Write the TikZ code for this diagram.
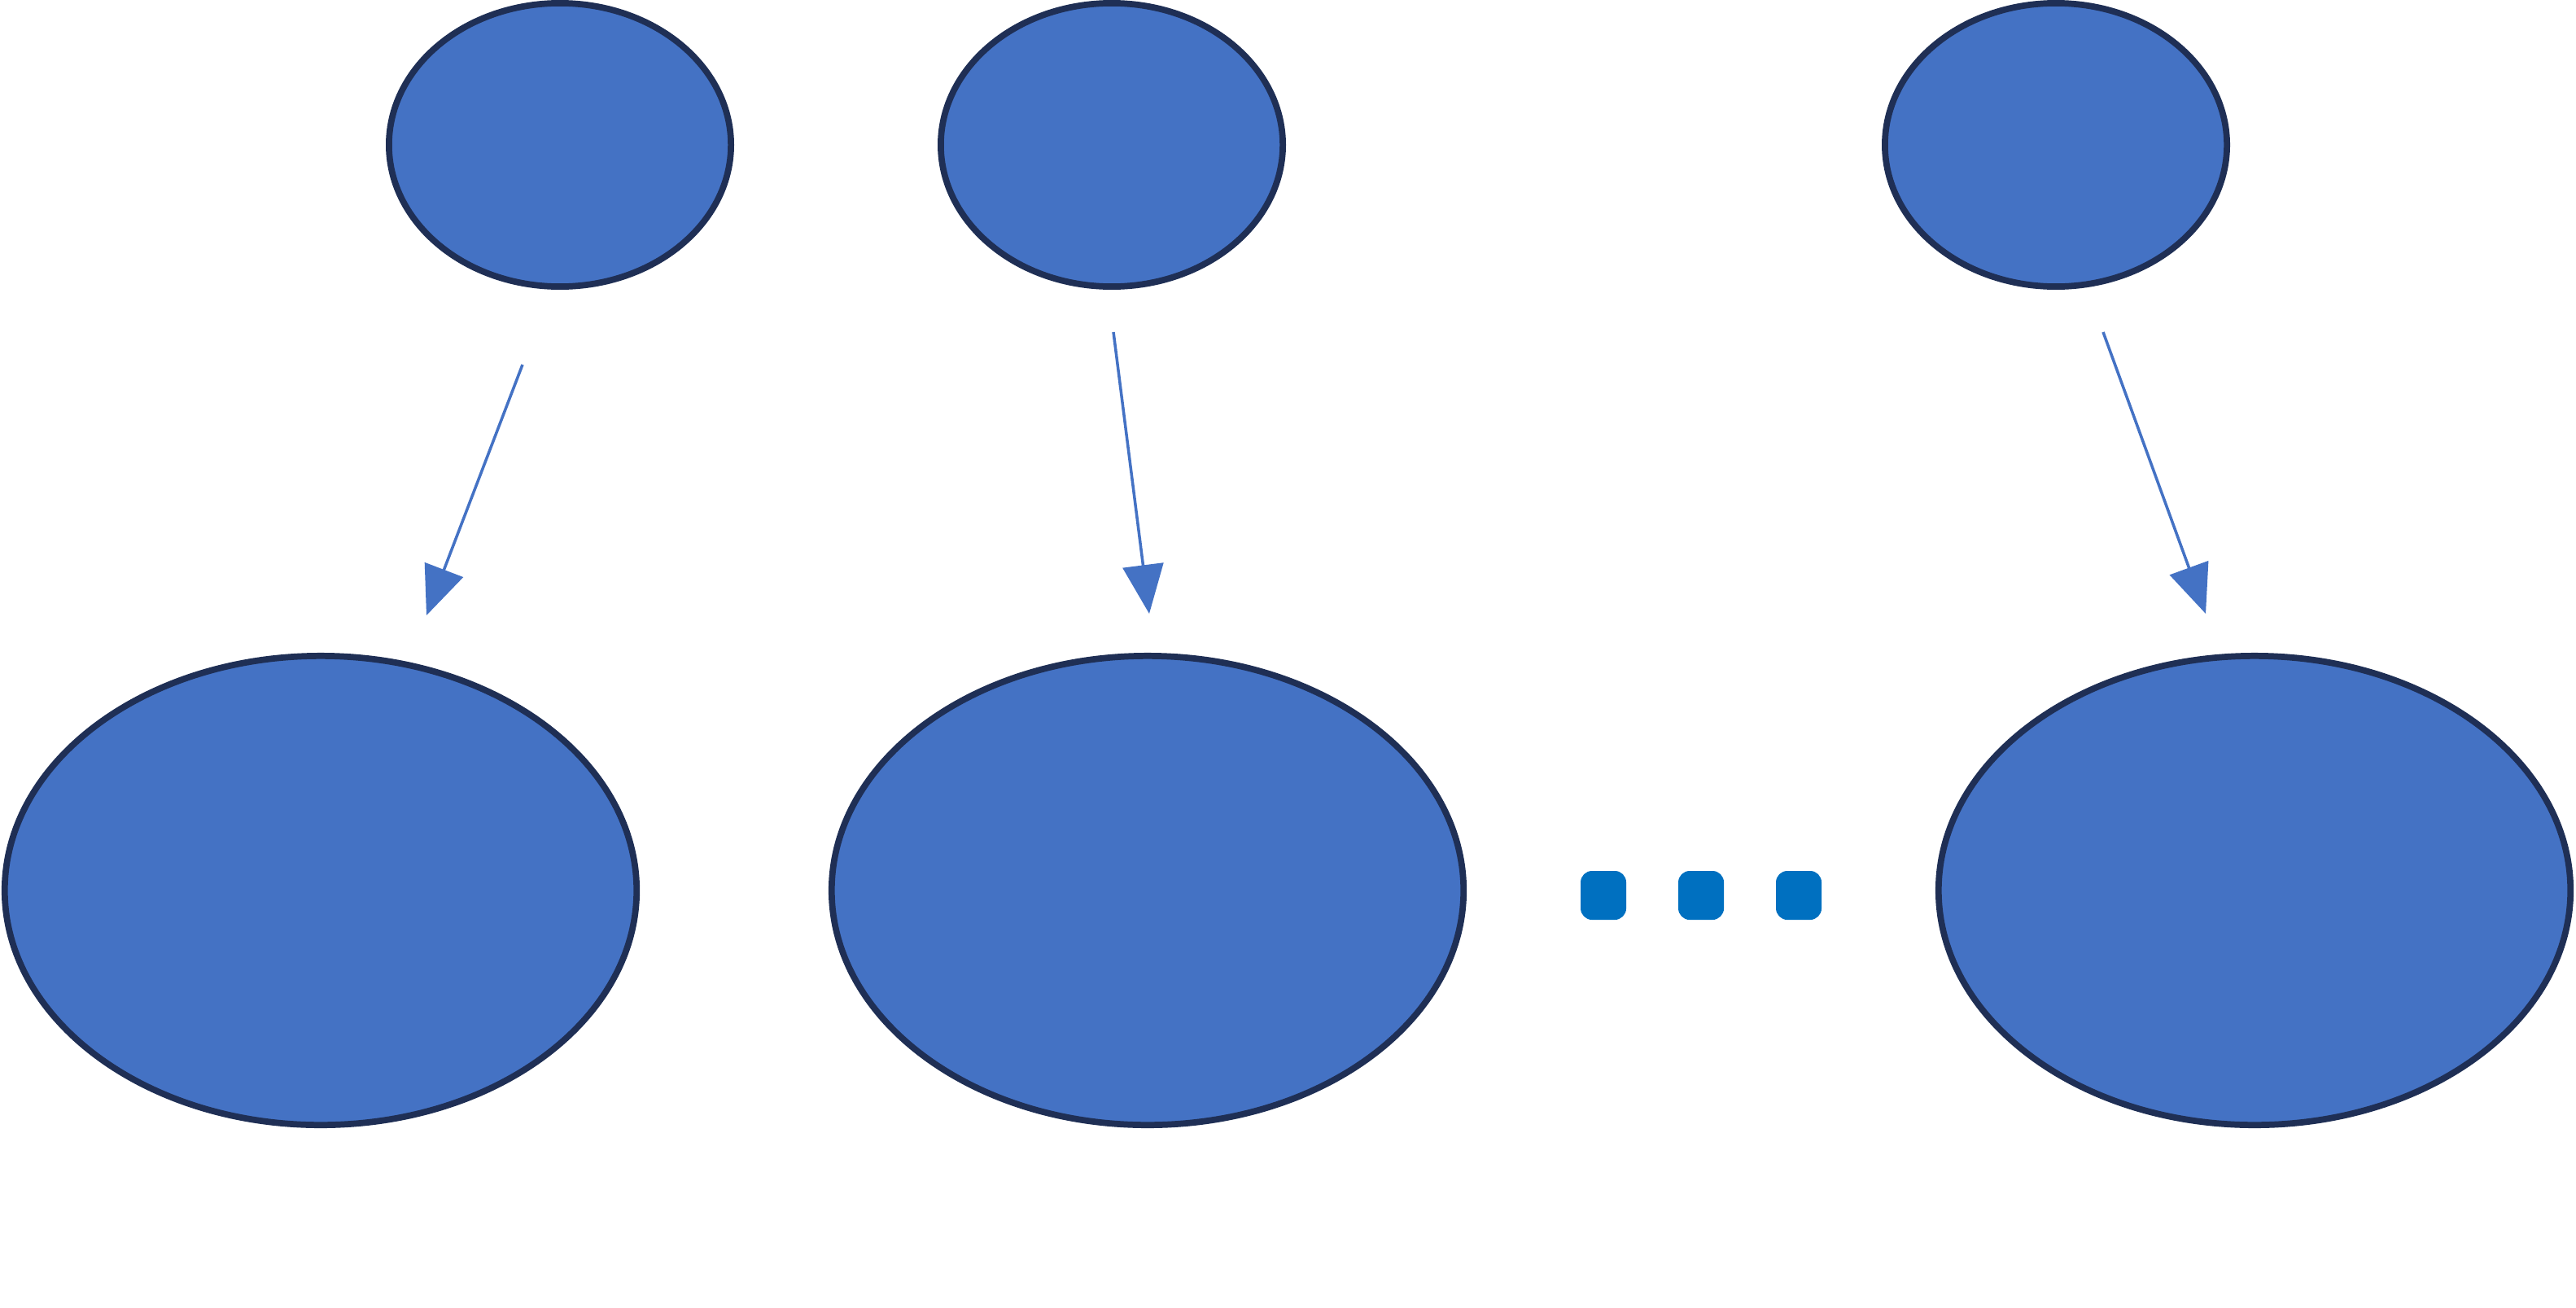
\documentclass[tikz,border=0pt]{standalone}
\usetikzlibrary{shapes.geometric,arrows.meta}
\definecolor{blobfill}{HTML}{4472C4}
\definecolor{blobline}{HTML}{1F2F55}
\definecolor{dotblue}{HTML}{0070C0}
\begin{document}
\begin{tikzpicture}[x=0.01cm,y=-0.01cm]
    \tikzset{small/.style={ellipse,fill=blobfill,draw=blobline,line width=1.1pt,inner sep=0pt,minimum width=2.1cm,minimum height=1.74cm},
             big/.style={ellipse,fill=blobfill,draw=blobline,line width=1.1pt,inner sep=0pt,minimum width=3.88cm,minimum height=2.88cm},
             dotbox/.style={rectangle,rounded corners=2pt,fill=dotblue,inner sep=0pt,minimum width=0.28cm,minimum height=0.3cm},
             link/.style={draw=blobfill,line width=0.5pt,-{Triangle[length=0.3cm,width=0.25cm]}}}
    \useasboundingbox (0,0) rectangle (1582.5,803);
    \node[small] (s1) at (344,89) {};
    \node[small] (s2) at (683,89) {};
    \node[small] (s3) at (1263,89) {};
    \node[big] (b1) at (197,547) {};
    \node[big] (b2) at (705,547) {};
    \node[big] (b3) at (1385,547) {};
    \foreach \i/\x in {1/985,2/1045,3/1105}
        \node[dotbox] (d\i) at (\x,550) {};
    \coordinate (a1) at (321,224);
    \coordinate (e1) at (262,378);
    \coordinate (a2) at (684,204);
    \coordinate (e2) at (706,377);
    \coordinate (a3) at (1292,204);
    \coordinate (e3) at (1355,377);
    \foreach \i in {1,2,3}
        \draw[link] (a\i) -- (e\i);
\end{tikzpicture}
\end{document}
